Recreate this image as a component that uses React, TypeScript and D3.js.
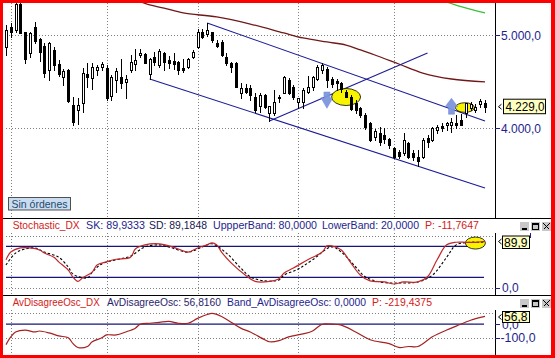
import React from 'react';
import * as d3 from 'd3';

// ---- DATA ----
// candles: [open, high, low, close]
const candles: [number, number, number, number][] = [
  [4871, 5108, 4785, 5054], [5086, 5129, 4978, 5032], [5054, 5344, 5032, 5333], [5333, 5360, 5022, 5022],
  [5032, 5032, 4699, 4742], [4806, 5032, 4763, 5022], [5086, 5140, 4914, 4935], [4957, 4968, 4720, 4817],
  [4882, 4914, 4548, 4591], [4624, 4925, 4516, 4914], [4839, 4871, 4624, 4677], [4688, 4731, 4559, 4581],
  [4548, 4634, 4462, 4613], [4624, 4634, 4280, 4290], [4247, 4333, 4032, 4065], [4194, 4323, 4043, 4247],
  [4269, 4645, 4172, 4591], [4581, 4699, 4441, 4548], [4538, 4699, 4419, 4656], [4624, 4677, 4570, 4656],
  [4656, 4710, 4624, 4688], [4645, 4677, 4301, 4323], [4344, 4570, 4301, 4548], [4516, 4645, 4387, 4613],
  [4548, 4742, 4430, 4484], [4495, 4570, 4323, 4527], [4624, 4785, 4602, 4710], [4688, 4849, 4624, 4731],
  [4785, 4849, 4763, 4806], [4796, 4806, 4699, 4699], [4581, 4753, 4527, 4742], [4763, 4817, 4677, 4710],
  [4677, 4849, 4656, 4828], [4806, 4817, 4624, 4710], [4731, 4774, 4645, 4699], [4720, 4806, 4634, 4688],
  [4710, 4720, 4581, 4624], [4645, 4742, 4602, 4624], [4656, 4753, 4645, 4742], [4763, 4839, 4753, 4817],
  [4871, 5065, 4860, 5032], [5032, 5065, 4968, 4978], [5011, 5129, 4989, 5054], [5032, 5032, 4925, 4946],
  [4914, 4946, 4871, 4882], [4925, 4946, 4774, 4785], [4763, 4806, 4677, 4699], [4699, 4710, 4602, 4656],
  [4699, 4710, 4441, 4441], [4376, 4484, 4323, 4430], [4430, 4473, 4376, 4387], [4430, 4462, 4301, 4355],
  [4333, 4376, 4172, 4194], [4237, 4376, 4172, 4355], [4355, 4366, 4215, 4226], [4161, 4237, 4075, 4237],
  [4161, 4409, 4140, 4280], [4323, 4355, 4280, 4333], [4376, 4559, 4376, 4548], [4516, 4538, 4366, 4376],
  [4441, 4462, 4312, 4333], [4280, 4323, 4215, 4323], [4280, 4430, 4215, 4409], [4387, 4559, 4376, 4441],
  [4441, 4559, 4409, 4548], [4527, 4677, 4516, 4656], [4624, 4699, 4591, 4677], [4634, 4656, 4441, 4516],
  [4527, 4548, 4441, 4473], [4505, 4527, 4409, 4484], [4484, 4495, 4387, 4419], [4387, 4409, 4333, 4333],
  [4333, 4355, 4194, 4204], [4269, 4301, 4161, 4194], [4215, 4226, 4118, 4140], [4140, 4161, 3989, 4011],
  [4054, 4065, 3860, 3871], [3903, 3989, 3871, 3968], [3946, 4011, 3817, 3849], [3925, 4000, 3839, 3882],
  [3882, 3892, 3785, 3817], [3785, 3796, 3677, 3688], [3742, 3763, 3677, 3699], [3731, 3946, 3710, 3871],
  [3839, 3849, 3677, 3688], [3731, 3763, 3656, 3688], [3688, 3763, 3591, 3645], [3688, 3892, 3677, 3871],
  [3892, 3925, 3796, 3849], [3871, 4011, 3860, 4000], [3978, 4032, 3946, 4011], [4022, 4054, 3968, 4000],
  [4032, 4065, 3978, 4054], [4032, 4108, 3957, 4065], [4054, 4140, 4000, 4032], [4086, 4151, 4032, 4032],
  [4161, 4269, 4118, 4269], [4215, 4280, 4194, 4258], [4194, 4258, 4172, 4226], [4258, 4312, 4226, 4290],
  [4269, 4301, 4172, 4229],
];

// moving averages [candle index, price]
const maSlow: [number, number][] = [
  [27, 5380], [30, 5323], [33, 5290], [37, 5237], [44, 5194], [51, 5118], [58, 5022], [62, 4968],
  [67, 4925], [71, 4892], [74, 4839], [77, 4785], [82, 4688], [87, 4591], [93, 4527], [100, 4495],
];
const maLong: [number, number][] = [[90, 5390], [95, 5305], [100, 5237]];

// trend lines [[index, price], [index, price]]
const trendLines: [number, number][][] = [
  [[42, 5129], [100, 4075]],
  [[30, 4527], [100, 3355]],
  [[55, 4075], [88, 4806]],
];

// signal markers
const ellipsesMain: [number, number][] = [[71, 4333], [95.8, 4220]];
const arrowDown: [number, number] = [67, 4301];
const arrowUp: [number, number] = [93, 4237];

const priceTicks = [5000, 4000];
const priceTickLabels = ['5.000,0', '4.000,0'];
const lastPrice = 4229;
const lastPriceLabel = '4.229,0';
const gridIdx = [1, 21, 40, 61, 81];

// stochastic
const skPts: [number, number][] = [
  [0, 54], [1, 69], [3, 77], [5, 77], [7, 73], [8, 67], [10, 59], [11, 50], [13, 34], [14, 20], [15, 12],
  [16, 19], [18, 30], [19, 44], [21, 50], [23, 55], [26, 59], [27, 75], [29, 83], [32, 85], [34, 81],
  [36, 75], [38, 69], [40, 77], [42, 83], [43, 87], [44, 83], [45, 69], [47, 48], [50, 24], [52, 12],
  [55, 12], [57, 17], [58, 28], [60, 38], [63, 54], [66, 69], [67, 81], [68, 81], [70, 73], [72, 48],
  [74, 24], [76, 13], [79, 11], [81, 7], [83, 11], [86, 11], [88, 21], [90, 54], [92, 83], [94, 88],
  [96, 88], [98, 88], [100, 90],
];
const sdPts: [number, number][] = [
  [0, 44], [2, 67], [4, 75], [6, 77], [8, 69], [11, 59], [13, 40], [14, 26], [17, 19], [18, 30], [20, 46],
  [24, 56], [26, 61], [29, 79], [32, 83], [34, 79], [38, 69], [41, 79], [43, 85], [46, 67], [49, 38],
  [51, 21], [54, 13], [57, 15], [58, 24], [61, 36], [64, 54], [68, 79], [70, 69], [73, 40], [75, 21],
  [78, 11], [83, 9], [86, 11], [89, 24], [92, 59], [94, 83], [97, 88], [99, 88], [100, 89],
];
const stochBands = [80, 20];
const stochGrid = [100, 0];
const stochEllipse: [number, number] = [98, 86.5];

// AvDisagreeOsc
const avdPts: [number, number][] = [
  [0, -150], [1, -93], [2, -57], [4, -43], [6, -57], [7, -50], [9, -64], [11, -86], [13, -100], [14, -143],
  [15, -171], [17, -164], [18, -129], [20, -100], [21, -79], [23, -79], [25, -57], [27, -29], [28, 0],
  [30, 7], [32, 14], [34, 21], [36, 7], [38, 7], [40, 43], [42, 71], [43, 79], [45, 57], [47, 14],
  [49, -29], [51, -57], [54, -114], [55, -129], [57, -121], [59, -93], [62, -71], [64, -50], [66, 0],
  [68, 0], [70, -7], [73, -57], [76, -114], [80, -143], [82, -171], [84, -164], [86, -164], [89, -93],
  [92, -43], [94, -14], [97, 29], [100, 57],
];
const avdBand = 0;
const avdGrid = [80, -100];

const FONT = 'Liberation Sans, Arial, sans-serif';
const NAVY = '#1E1E8C';
const RED = '#D42020';

function WinButtons({ y }: { y: number }) {
  return (
    <g shapeRendering="crispEdges">
      <rect x={520} y={y} width={9} height={9} fill="#C8C8C8" />
      <rect x={522} y={y + 6} width={5} height={2} fill="#000" />
      <rect x={531} y={y} width={9} height={9} fill="#C8C8C8" />
      <rect x={532.5} y={y + 1.5} width={6} height={6} fill="none" stroke="#000" />
      <rect x={532} y={y + 1} width={7} height={2} fill="#000" />
      <rect x={542} y={y} width={9} height={9} fill="#C8C8C8" />
      <path d={`M${543.5},${y + 1.5}L${549.5},${y + 7.5}M${549.5},${y + 1.5}L${543.5},${y + 7.5}`} stroke="#000" strokeWidth={1.4} />
    </g>
  );
}

function Chevron({ y }: { y: number }) {
  return <path d={`M501.5,${y - 2.5}L498.5,${y}L501.5,${y + 2.5}`} fill="none" stroke="#000" strokeWidth={1} />;
}

export default function App() {
  const x = d3.scaleLinear().domain([0, 100]).range([6, 485]);
  const yP = d3.scaleLinear().domain([4000, 5000]).range([128, 35]);
  const yS = d3.scaleLinear().domain([0, 100]).range([287.6, 236.1]);
  const yA = d3.scaleLinear().domain([-100, 0]).range([337.8, 324.2]);

  const lineP = d3.line<[number, number]>().x(d => x(d[0])).y(d => yP(d[1])).curve(d3.curveCatmullRom);
  const lineS = d3.line<[number, number]>().x(d => x(d[0])).y(d => yS(d[1])).curve(d3.curveCatmullRom);
  const lineA = d3.line<[number, number]>().x(d => x(d[0])).y(d => yA(d[1])).curve(d3.curveCatmullRom);

  const gridX = gridIdx.map(i => Math.round(x(i)) + 0.5);
  const dot = { stroke: '#808080', strokeWidth: 1, strokeDasharray: '1,2' };

  return (
    <svg width={555} height={358} style={{ position: 'absolute', left: 0, top: 0, background: '#fff' }} fontFamily={FONT}>
      <defs>
        <clipPath id="mainClip"><rect x={3} y={3} width={492} height={215} /></clipPath>
      </defs>
      <rect x={0} y={0} width={555} height={358} fill="#fff" />

      {/* ===== MAIN PANEL ===== */}
      <g>
        {gridX.map((gx, k) => <line key={'gv' + k} x1={gx} x2={gx} y1={3} y2={218} {...dot} />)}
        {priceTicks.map((p, k) => (
          <line key={'gh' + k} x1={6} x2={495} y1={Math.round(yP(p)) + 0.5} y2={Math.round(yP(p)) + 0.5} {...dot} />
        ))}
      </g>
      <g clipPath="url(#mainClip)">
        <path d={lineP(maSlow) || ''} fill="none" stroke="#701818" strokeWidth={1.3} />
        <path d={lineP(maLong) || ''} fill="none" stroke="#3CC03C" strokeWidth={1.3} />
        {trendLines.map((t, k) => (
          <line key={'tl' + k} x1={x(t[0][0])} y1={yP(t[0][1])} x2={x(t[1][0])} y2={yP(t[1][1])} stroke="#1A1A96" strokeWidth={1.1} />
        ))}
        <ellipse cx={x(ellipsesMain[0][0])} cy={yP(ellipsesMain[0][1])} rx={14.5} ry={8.5} fill="#F8F400" stroke="#000" strokeWidth={0.8} />
        <ellipse cx={x(ellipsesMain[1][0])} cy={yP(ellipsesMain[1][1])} rx={9.5} ry={4.8} fill="#F8F400" stroke="#000" strokeWidth={0.8} />
        <g shapeRendering="crispEdges">
          {candles.map((c, i) => {
            const [o, h, l, cl] = c;
            const cx = Math.round(x(i));
            const up = cl >= o;
            const top = Math.round(yP(Math.max(o, cl)));
            const bot = Math.round(yP(Math.min(o, cl)));
            return (
              <g key={'c' + i}>
                <line x1={cx + 0.5} x2={cx + 0.5} y1={Math.round(yP(h))} y2={Math.round(yP(l)) + 1} stroke="#000" />
                <rect x={cx - 0.5} y={top + 0.5} width={2} height={Math.max(bot - top, 1)} fill={up ? '#fff' : '#000'} stroke="#000" />
              </g>
            );
          })}
        </g>
        {(() => {
          const ax = x(arrowDown[0]), ay = yP(arrowDown[1]);
          const bx = x(arrowUp[0]), by = yP(arrowUp[1]);
          return (
            <g fill="#7D95DE" stroke="#6A84D6" strokeWidth={0.5} opacity={0.95}>
              <polygon points={`${ax - 3},${ay - 8} ${ax + 3},${ay - 8} ${ax + 3},${ay - 2.3} ${ax + 6},${ay - 2.3} ${ax},${ay + 8.3} ${ax - 6},${ay - 2.3} ${ax - 3},${ay - 2.3}`} />
              <polygon points={`${bx},${by - 7.7} ${bx + 6.3},${by + 0.7} ${bx + 3},${by + 0.7} ${bx + 3},${by + 8.3} ${bx - 3},${by + 8.3} ${bx - 3},${by + 0.7} ${bx - 6.3},${by + 0.7}`} />
            </g>
          );
        })()}
      </g>

      {/* Sin órdenes */}
      <rect x={8.5} y={197.5} width={62} height={12.5} fill="#CADCF0" stroke="#505050" strokeWidth={1} />
      <text x={11.5} y={207.5} fontSize={11} fill="#244A6E" textLength={56} lengthAdjust="spacingAndGlyphs">Sin órdenes</text>

      {/* main axis */}
      <line x1={495.5} x2={495.5} y1={3} y2={218} stroke="#000" />
      {priceTicks.map((p, k) => (
        <g key={'pt' + k}>
          <line x1={495} x2={500} y1={Math.round(yP(p)) + 0.5} y2={Math.round(yP(p)) + 0.5} stroke={NAVY} />
          <text x={501} y={yP(p) + 4.7} fontSize={12} fill={NAVY} textLength={40} lengthAdjust="spacingAndGlyphs">{priceTickLabels[priceTicks.indexOf(p)]}</text>
        </g>
      ))}
      <Chevron y={yP(lastPrice)} />
      <rect x={503.5} y={yP(lastPrice) - 7.5} width={42} height={14.5} fill="#FFFFC0" stroke="#000" />
      <text x={505.5} y={yP(lastPrice) + 4.7} fontSize={12} fill="#000" textLength={39} lengthAdjust="spacingAndGlyphs">{lastPriceLabel}</text>

      <line x1={3} x2={551} y1={218.5} y2={218.5} stroke="#000" />

      {/* ===== STOCHASTIC ===== */}
      <g fontSize={10.5}>
        <text x={12.7} y={228.5} fill={RED} textLength={67} lengthAdjust="spacingAndGlyphs">Stochastic_DX</text>
        <text x={86} y={228.5} fill={NAVY} textLength={59} lengthAdjust="spacingAndGlyphs">SK: 89,9333</text>
        <text x={149} y={228.5} fill="#181850" textLength={58} lengthAdjust="spacingAndGlyphs">SD: 89,1848</text>
        <text x={213} y={228.5} fill={NAVY} textLength={104} lengthAdjust="spacingAndGlyphs">UppperBand: 80,0000</text>
        <text x={322} y={228.5} fill={NAVY} textLength={97} lengthAdjust="spacingAndGlyphs">LowerBand: 20,0000</text>
        <text x={425} y={228.5} fill={RED} textLength={54} lengthAdjust="spacingAndGlyphs">P: -11,7647</text>
      </g>
      <WinButtons y={222} />
      {gridX.map((gx, k) => <line key={'sgv' + k} x1={gx} x2={gx} y1={233} y2={295} {...dot} />)}
      {stochGrid.map((v, k) => (
        <line key={'sgh' + k} x1={6} x2={495} y1={Math.round(yS(v)) + 0.5} y2={Math.round(yS(v)) + 0.5} {...dot} />
      ))}
      {stochBands.map((v, k) => (
        <line key={'sb' + k} x1={6} x2={484} y1={yS(v)} y2={yS(v)} stroke="#14147A" strokeWidth={1.3} />
      ))}
      <ellipse cx={x(stochEllipse[0])} cy={yS(stochEllipse[1])} rx={10} ry={6} fill="#F8F400" stroke="#000" strokeWidth={0.8} />
      <path d={lineS(sdPts) || ''} fill="none" stroke="#000" strokeWidth={1.1} strokeDasharray="2.5,2" />
      <path d={lineS(skPts) || ''} fill="none" stroke="#C0282C" strokeWidth={1.2} />
      <line x1={495.5} x2={495.5} y1={233} y2={295} stroke="#000" />
      <Chevron y={241.5} />
      <rect x={502.5} y={236} width={27} height={12.5} fill="#FFFFC0" stroke="#000" />
      <line x1={530.5} x2={530.5} y1={233} y2={238} stroke={NAVY} />
      <text x={504} y={246.5} fontSize={12} fill="#000" textLength={23.5} lengthAdjust="spacingAndGlyphs">89,9</text>
      <line x1={495} x2={500} y1={Math.round(yS(0)) + 0.5} y2={Math.round(yS(0)) + 0.5} stroke={NAVY} />
      <text x={502} y={yS(0) + 4} fontSize={12} fill={NAVY}>0,0</text>

      <line x1={3} x2={551} y1={295.5} y2={295.5} stroke="#000" />

      {/* ===== AvDisagreeOsc ===== */}
      <g fontSize={10.5}>
        <text x={12.7} y={306} fill={RED} textLength={87} lengthAdjust="spacingAndGlyphs">AvDisagreeOsc_DX</text>
        <text x={107} y={306} fill="#2A1E6A" textLength={114} lengthAdjust="spacingAndGlyphs">AvDisagreeOsc: 56,8160</text>
        <text x={227} y={306} fill={NAVY} textLength={139} lengthAdjust="spacingAndGlyphs">Band_AvDisagreeOsc: 0,0000</text>
        <text x={372} y={306} fill={RED} textLength={60} lengthAdjust="spacingAndGlyphs">P: -219,4375</text>
      </g>
      <WinButtons y={299} />
      {gridX.map((gx, k) => <line key={'agv' + k} x1={gx} x2={gx} y1={310} y2={355} {...dot} />)}
      {avdGrid.map((v, k) => (
        <line key={'agh' + k} x1={6} x2={495} y1={Math.round(yA(v)) + 0.5} y2={Math.round(yA(v)) + 0.5} {...dot} />
      ))}
      <line x1={6} x2={484} y1={yA(avdBand)} y2={yA(avdBand)} stroke="#14147A" strokeWidth={1.3} />
      <path d={lineA(avdPts) || ''} fill="none" stroke="#A52222" strokeWidth={1.2} />
      <line x1={495.5} x2={495.5} y1={310} y2={355} stroke="#000" />
      <line x1={495} x2={500} y1={Math.round(yA(0)) + 0.5} y2={Math.round(yA(0)) + 0.5} stroke={NAVY} />
      <text x={502} y={yA(0) + 4.5} fontSize={12} fill={NAVY}>0,0</text>
      <line x1={495} x2={500} y1={Math.round(yA(-100)) + 0.5} y2={Math.round(yA(-100)) + 0.5} stroke={NAVY} />
      <text x={500.5} y={yA(-100) + 4.3} fontSize={12} fill={NAVY} textLength={35} lengthAdjust="spacingAndGlyphs">-100,0</text>
      <Chevron y={317} />
      <rect x={502.5} y={311.5} width={27} height={11} fill="#FFFFC0" stroke="#000" />
      <text x={504} y={321.3} fontSize={12} fill="#000" textLength={23.5} lengthAdjust="spacingAndGlyphs">56,8</text>

      {/* red frame */}
      <rect x={0} y={0} width={555} height={3} fill="#FF0000" />
      <rect x={0} y={0} width={3} height={358} fill="#FF0000" />
      <rect x={551} y={0} width={4} height={358} fill="#FF0000" />
      <rect x={0} y={355} width={555} height={3} fill="#FF0000" />
    </svg>
  );
}
